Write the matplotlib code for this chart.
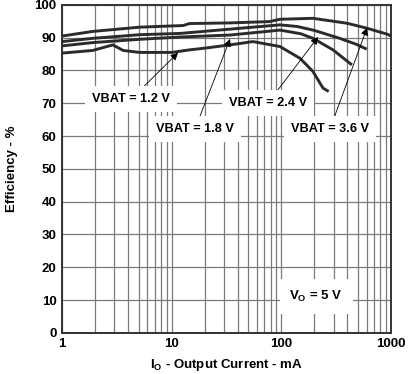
import numpy as np
import matplotlib
matplotlib.use("Agg")
import matplotlib.pyplot as plt
from matplotlib.ticker import LogLocator, NullFormatter

plt.rcParams["font.family"] = ["Liberation Sans", "DejaVu Sans"]
plt.rcParams["font.weight"] = "bold"
plt.rcParams["mathtext.fontset"] = "custom"
plt.rcParams["mathtext.rm"] = "Liberation Sans:bold"

# efficiency curves (I in mA, eff in %)
i_36 = [1, 1.9, 5.1, 12.7, 14.5, 34, 78, 97, 194, 396, 600, 935, 1000]
eff_36 = [90.5, 91.9, 93.2, 93.7, 94.3, 94.5, 94.9, 95.6, 95.9, 94.4, 92.9, 91.0, 90.5]

i_24 = [1, 1.9, 5.1, 12, 34, 97, 140, 200, 340, 480, 600]
eff_24 = [88.8, 89.8, 90.9, 91.3, 92.6, 93.9, 93.4, 92.2, 89.8, 88.0, 86.5]

i_18 = [1, 1.9, 5.1, 12, 34, 97, 150, 194, 295, 440]
eff_18 = [87.5, 88.5, 89.5, 90.2, 90.8, 92.3, 91.2, 89.8, 86.3, 81.7]

i_12 = [1, 1.9, 2.9, 3.6, 5.1, 10, 14.7, 20, 34, 55, 97, 148, 194, 240, 270]
eff_12 = [85.3, 86.1, 87.8, 86.1, 85.5, 85.5, 86.3, 86.8, 87.8, 88.8, 87.3, 83.7, 79.7, 74.6, 73.6]

x_ticks = [1, 10, 100, 1000]
x_tick_labels = ["1", "10", "100", "1000"]
y_ticks = list(range(0, 101, 10))

fig = plt.figure(figsize=(4.09, 3.74), dpi=100)
ax = fig.add_axes([0.152, 0.110, 0.804, 0.877])

for xs, ys in [(i_36, eff_36), (i_24, eff_24), (i_18, eff_18), (i_12, eff_12)]:
    ax.plot(xs, ys, color="#2b2b2b", lw=2.1, solid_capstyle="butt", zorder=3)

ax.set_xscale("log")
ax.set_xlim(1, 1000)
ax.set_ylim(0, 100)
ax.set_xticks(x_ticks)
ax.set_xticklabels(x_tick_labels)
ax.xaxis.set_minor_locator(LogLocator(base=10, subs=np.arange(2, 10)))
ax.xaxis.set_minor_formatter(NullFormatter())
ax.set_yticks(y_ticks)
ax.tick_params(which="both", length=0, labelsize=9.5, pad=4)
ax.grid(True, which="major", color="#7a7a7a", lw=0.9)
ax.grid(True, which="minor", axis="x", color="#7a7a7a", lw=0.9)
for sp in ax.spines.values():
    sp.set_linewidth(1.4)
    sp.set_color("#333333")

ax.set_xlabel(r"$\mathrm{I_O}$ - Output Current - mA", fontsize=9.5, fontweight="bold", labelpad=5)
ax.set_ylabel("Efficiency - %", fontsize=9.5, fontweight="bold", labelpad=12)

box = dict(facecolor="white", edgecolor="none", pad=5)
arrow = dict(arrowstyle="-|>", color="black", lw=0.6, mutation_scale=11, shrinkA=0, shrinkB=0)
labels = [
    ("VBAT = 1.2 V", (4.26, 71.3), (11.4, 85.4)),
    ("VBAT = 1.8 V", (16.3, 62.2), (34, 89.6)),
    ("VBAT = 2.4 V", (75.5, 70.1), (216, 90.2)),
    ("VBAT = 3.6 V", (278, 62.2), (604, 93.0)),
]
for txt, pos, head in labels:
    ax.annotate(txt, xy=head, xytext=pos, ha="center", va="center", fontsize=9.2,
                fontweight="bold", bbox=box, arrowprops=arrow, zorder=4)

ax.text(207, 11.0, r"$\mathrm{V_O}$ = 5 V", ha="center", va="center", fontsize=9.5,
        fontweight="bold", bbox=dict(facecolor="white", edgecolor="none", pad=7), zorder=4)

fig.savefig("out.png", dpi=100)
